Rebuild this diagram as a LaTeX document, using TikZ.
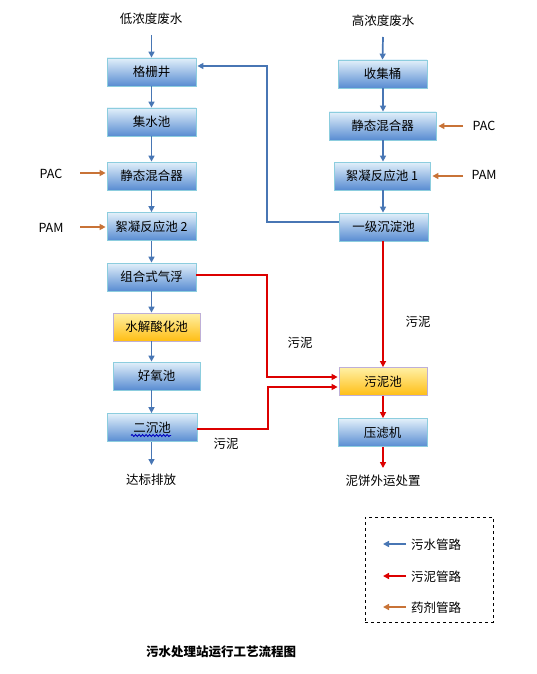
\documentclass[tikz,border=0pt]{standalone}
\usepackage{fontspec}
\setmainfont{Noto Sans CJK SC}
\usetikzlibrary{arrows.meta,decorations.pathmorphing}
\definecolor{bluetop}{RGB}{226,240,250}
\definecolor{bluemid}{RGB}{165,200,235}
\definecolor{bluebot}{RGB}{88,140,210}
\definecolor{blueedge}{RGB}{140,205,222}
\definecolor{yeltop}{RGB}{255,240,165}
\definecolor{yelmid}{RGB}{255,220,100}
\definecolor{yelbot}{RGB}{255,190,20}
\definecolor{yeledge}{RGB}{190,175,215}
\definecolor{wline}{RGB}{72,118,180}
\definecolor{sline}{RGB}{220,0,0}
\definecolor{cline}{RGB}{200,115,55}
\begin{document}
\begin{tikzpicture}[x=1pt,y=-1pt,
  every node/.style={font=\fontsize{12.5}{14}\selectfont, inner sep=0pt},
  bluebox/.style={draw=blueedge, line width=0.8pt, top color=bluetop, middle color=bluemid, bottom color=bluebot, minimum height=28pt},
  yelbox/.style={draw=yeledge, line width=0.8pt, top color=yeltop, middle color=yelmid, bottom color=yelbot, minimum height=28pt},
  water/.style={draw=wline, line width=1.7pt, -{Triangle[length=6pt,width=6pt]}},
  sludge/.style={draw=sline, line width=1.7pt, -{Triangle[length=6pt,width=6pt]}},
  chem/.style={draw=cline, line width=1.7pt, -{Triangle[length=6pt,width=6pt]}},
  lbl/.style={}]
\useasboundingbox (0,0) rectangle (536,674);
% left column
\node[lbl] (tl) at (151,19) {低浓度废水};
\node[bluebox, minimum width=89pt] (g1) at (151.5,72) {格栅井};
\node[bluebox, minimum width=89pt] (g2) at (151.5,122) {集水池};
\node[bluebox, minimum width=89pt] (g3) at (151.5,176) {静态混合器};
\node[bluebox, minimum width=89pt] (g4) at (151.5,226.5) {絮凝反应池 2};
\node[bluebox, minimum width=89pt] (g5) at (151.5,277) {组合式气浮};
\node[yelbox, minimum width=87pt] (g6) at (156.5,327) {水解酸化池};
\node[bluebox, minimum width=87pt] (g7) at (156.5,376) {好氧池};
\node[bluebox, minimum width=90pt] (g8) at (152,427.5) {二沉池};
\node[lbl] (bl) at (151,480) {达标排放};
\coordinate (tla) at (151.5,35);
\coordinate (bla) at (151.5,465);
\draw[blue!75!black, line width=0.9pt, decorate, decoration={snake, amplitude=1pt, segment length=3.5pt}] (131,435.5) -- (171,435.5);
% left chemicals
\node[lbl] (pacl) at (51,174) {PAC};
\node[lbl] (paml) at (51,228) {PAM};
\coordinate (pacla) at (80,173);
\coordinate (pamla) at (80,227);
% right column
\node[lbl] (tr) at (383,21) {高浓度废水};
\node[bluebox, minimum width=89pt] (r1) at (382.5,74) {收集桶};
\node[bluebox, minimum width=107pt] (r2) at (382.5,126) {静态混合器};
\node[bluebox, minimum width=96pt] (r3) at (382,176) {絮凝反应池 1};
\node[bluebox, minimum width=89pt] (r4) at (383.5,227) {一级沉淀池};
\node[yelbox, minimum width=88pt] (r5) at (383,381.5) {污泥池};
\node[bluebox, minimum width=89pt] (r6) at (382.5,432.5) {压滤机};
\node[lbl] (br) at (383,481) {泥饼外运处置};
\coordinate (tra) at (383,37);
\coordinate (bra) at (383,468);
% right chemicals
\node[lbl] (pacr) at (484,126) {PAC};
\node[lbl] (pamr) at (484,175) {PAM};
\coordinate (pacra) at (463,126);
\coordinate (pamra) at (463,176);
% sludge labels
\node[lbl] (s1) at (418,322) {污泥};
\node[lbl] (s2) at (300,343) {污泥};
\node[lbl] (s3) at (226,444) {污泥};
% water arrows left
\draw[water] (tla) -- (g1.north);
\draw[water] (g1.south) -- (g2.north);
\draw[water] (g2.south) -- (g3.north);
\draw[water] (g3.south) -- (g4.north);
\draw[water] (g4.south) -- (g5.north);
\draw[water] (g5.south) -- (g5.south |- g6.north);
\draw[water] (g5.south |- g6.south) -- (g5.south |- g7.north);
\draw[water] (g5.south |- g7.south) -- (g5.south |- g8.north);
\draw[water] (g8.south -| bla) -- (bla);
% water arrows right
\draw[water] (tra) -- (r1.north);
\draw[water] (r1.south -| tra) -- (r2.north -| tra);
\draw[water] (r2.south -| tra) -- (r3.north -| tra);
\draw[water] (r3.south -| tra) -- (r4.north -| tra);
% return line
\draw[water] (r4.west |- 0,222) -- (267,222) -- (267,66) -- ([xshift=1pt]g1.east |- 0,66);
% chemicals
\draw[chem] (pacla) -- ([xshift=-1pt]g3.west |- pacla);
\draw[chem] (pamla) -- ([xshift=-1pt]g4.west |- pamla);
\draw[chem] (pacra) -- ([xshift=2pt]r2.east |- pacra);
\draw[chem] (pamra) -- ([xshift=2pt]r3.east |- pamra);
% sludge lines
\draw[sludge] (r4.south -| tra) -- (r5.north -| tra);
\draw[sludge] (g5.east |- 0,275) -- (267,275) -- (267,377) -- ([xshift=-1pt]r5.west |- 0,377);
\draw[sludge] (g8.east |- 0,429) -- (268,429) -- (268,387) -- ([xshift=-1pt]r5.west |- 0,387);
\draw[sludge] (r5.south -| tra) -- (r6.north -| tra);
\draw[sludge] (r6.south -| bra) -- (bra);
% legend
\node[draw, dashed, line width=0.8pt, minimum width=128pt, minimum height=105pt] (leg) at (429,569.5) {};
\coordinate (lw1) at (406,544);
\coordinate (lw2) at (383,544);
\coordinate (ls1) at (406,576);
\coordinate (ls2) at (383,576);
\coordinate (lc1) at (406,607);
\coordinate (lc2) at (383,607);
\draw[water] (lw1) -- (lw2);
\draw[sludge] (ls1) -- (ls2);
\draw[chem] (lc1) -- (lc2);
\node[lbl, anchor=west] (lt1) at (411,545) {污水管路};
\node[lbl, anchor=west] (lt2) at (411,577) {污泥管路};
\node[lbl, anchor=west] (lt3) at (411,608) {药剂管路};
% caption
\node[lbl, font=\fontsize{12.5}{14}\selectfont\bfseries] (cap) at (221,652) {污水处理站运行工艺流程图};
\end{tikzpicture}
\end{document}
